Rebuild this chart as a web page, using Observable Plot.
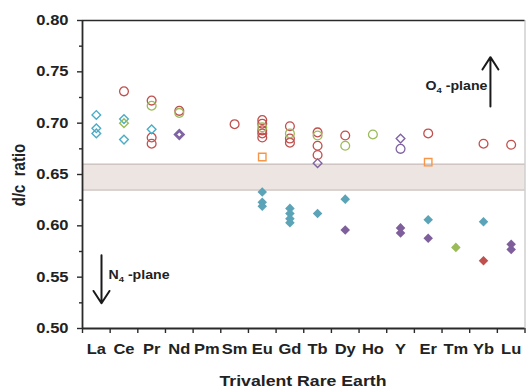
<!DOCTYPE html>
<html><head><meta charset="utf-8">
<script src="https://cdn.jsdelivr.net/npm/d3@7"></script>
<script src="https://cdn.jsdelivr.net/npm/@observablehq/plot@0.6"></script>
<style>
body{margin:0;background:#fff;}
svg{font-family:"Liberation Sans",Arial,sans-serif;overflow:visible;}
</style>
</head><body><div id="chart"></div>
<script>
const categories = ["La","Ce","Pr","Nd","Pm","Sm","Eu","Gd","Tb","Dy","Ho","Y","Er","Tm","Yb","Lu"];
const yTicks = [0.50,0.55,0.60,0.65,0.70,0.75,0.80];
const yMinorTicks = [0.525,0.575,0.625,0.675,0.725,0.775];
const bandRange = [0.635, 0.66];
const xTitle = "Trivalent Rare Earth";
const yTitle = "d/c \u00A0ratio";

// series values [element, d/c ratio]
const redOpenCircles = [["Ce",0.731],["Pr",0.722],["Pr",0.686],["Pr",0.680],["Nd",0.712],["Sm",0.699],
  ["Eu",0.703],["Eu",0.6995],["Eu",0.693],["Eu",0.690],["Eu",0.686],
  ["Gd",0.697],["Gd",0.685],["Gd",0.681],["Tb",0.691],["Tb",0.678],["Tb",0.669],
  ["Dy",0.688],["Er",0.690],["Yb",0.680],["Lu",0.679]];
const greenOpenCircles = [["Pr",0.717],["Nd",0.710],["Eu",0.696],["Gd",0.690],["Tb",0.688],["Dy",0.678],["Ho",0.689]];
const cyanOpenDiamonds = [["La",0.708],["La",0.695],["La",0.690],["Ce",0.704],["Ce",0.684],["Pr",0.694]];
const greenOpenDiamonds = [["Ce",0.700]];
const purpleOpenDiamonds = [["Tb",0.661],["Y",0.685]];
const purpleBoldDiamonds = [["Nd",0.689]];
const purpleOpenCircles = [["Y",0.675]];
const orangeOpenSquares = [["Eu",0.667],["Er",0.662]];
const cyanFilledDiamonds = [["Eu",0.633],["Eu",0.623],["Eu",0.619],["Gd",0.617],["Gd",0.612],["Gd",0.607],["Gd",0.603],
  ["Tb",0.612],["Dy",0.626],["Er",0.606],["Yb",0.604]];
const purpleFilledDiamonds = [["Dy",0.596],["Y",0.598],["Y",0.593],["Er",0.588],["Lu",0.582],["Lu",0.577]];
const greenFilledDiamonds = [["Tm",0.579]];
const redFilledDiamonds = [["Yb",0.566]];

// annotations: [label, x (category index units), y]
const upperNote = ["O\u2084 -plane", 14.14, 0.7358];
const lowerNote = ["N\u2084 -plane", 0.44, 0.5519];
const annotationArrows = [[14.25, 0.7163, 14.25, 0.7643], [0.187, 0.5713, 0.187, 0.5246]];

// styles
const styles = [
  {data: redOpenCircles, symbol: "circle", color: "#C0504D", filled: false, r: 4.4, sw: 1.3},
  {data: greenOpenCircles, symbol: "circle", color: "#9BBB59", filled: false, r: 4.4, sw: 1.3},
  {data: purpleOpenCircles, symbol: "circle", color: "#8064A2", filled: false, r: 4.4, sw: 1.3},
  {data: cyanOpenDiamonds, symbol: "diamond2", color: "#4BACC6", filled: false, r: 3.9, sw: 1.4},
  {data: greenOpenDiamonds, symbol: "diamond2", color: "#9BBB59", filled: false, r: 3.9, sw: 1.4},
  {data: purpleOpenDiamonds, symbol: "diamond2", color: "#8064A2", filled: false, r: 3.9, sw: 1.4},
  {data: purpleBoldDiamonds, symbol: "diamond2", color: "#8064A2", filled: false, r: 3.6, sw: 2.8},
  {data: orangeOpenSquares, symbol: "square", color: "#F79646", filled: false, r: 4.2, sw: 1.4},
  {data: cyanFilledDiamonds, symbol: "diamond2", color: "#5BA3B7", filled: true, r: 4.3, sw: 0},
  {data: purpleFilledDiamonds, symbol: "diamond2", color: "#7E5F9C", filled: true, r: 4.3, sw: 0},
  {data: greenFilledDiamonds, symbol: "diamond2", color: "#9BBB59", filled: true, r: 4.3, sw: 0},
  {data: redFilledDiamonds, symbol: "diamond2", color: "#C0504D", filled: true, r: 4.3, sw: 0}
];

const idx = el => categories.indexOf(el);
const xMin = -0.5, xMax = categories.length - 0.5;
const boundaries = categories.map((_, i) => i - 0.5).concat([xMax]);

const dotMarks = styles.map(s => Plot.dot(s.data.map(([el, v]) => ({x: idx(el), v})), {
  x: "x", y: "v", symbol: () => s.symbol, r: s.r,
  fill: s.filled ? s.color : "none",
  stroke: s.filled ? "none" : s.color,
  strokeWidth: s.sw
}));

const noteMark = (note, anchor) => Plot.text([note], {text: d => d[0], x: d => d[1], y: d => d[2], textAnchor: anchor,
  fontSize: 12, fontWeight: "bold", fill: "#222"});

const plot = Plot.plot({
  width: 526, height: 390,
  marginLeft: 82, marginRight: 1.5, marginTop: 20, marginBottom: 62,
  x: {type: "linear", domain: [xMin, xMax], label: null},
  y: {domain: [yTicks[0], yTicks[yTicks.length - 1]], label: null},
  symbol: {type: "identity"},
  style: {background: "white", fontFamily: "Liberation Sans, Arial, sans-serif"},
  marks: [
    Plot.rect([bandRange], {x1: xMin, x2: xMax, y1: d => d[0], y2: d => d[1], fill: "#EDE5E2"}),
    Plot.ruleY(bandRange, {x1: xMin, x2: xMax, stroke: "#CFC5C2", strokeWidth: 1.5}),
    Plot.ruleX([xMax], {stroke: "#B8B8B8", strokeWidth: 1}),
    Plot.ruleY([yTicks[yTicks.length - 1]], {stroke: "#2a2a2a", strokeWidth: 1.6}),
    ...dotMarks,
    Plot.arrow(annotationArrows, {x1: d => d[0], y1: d => d[1], x2: d => d[2], y2: d => d[3],
      stroke: "#1a1a1a", strokeWidth: 2, headLength: 11, headAngle: 66}),
    noteMark(upperNote, "end"),
    noteMark(lowerNote, "start"),
    Plot.axisY({ticks: yMinorTicks, tickSize: 3, tickFormat: () => "", stroke: "#2a2a2a", strokeWidth: 1.4, label: null}),
    Plot.axisY({ticks: yTicks, tickSize: 5, tickPadding: 9, tickFormat: d3.format(".2f"), fontSize: 14, fontWeight: "bold",
      stroke: "#2a2a2a", strokeWidth: 1.4, fill: "#222", label: null}),
    Plot.axisX({ticks: boundaries, tickSize: 5, tickFormat: () => "", stroke: "#2a2a2a", strokeWidth: 1.4, label: null}),
    Plot.axisX({ticks: categories.map((_, i) => i), tickSize: 0, tickPadding: 16, tickFormat: i => categories[i],
      fontSize: 14, fontWeight: "bold", fill: "#222", label: null}),
    Plot.ruleX([xMin], {stroke: "#2a2a2a", strokeWidth: 1.8}),
    Plot.ruleY([yTicks[0]], {stroke: "#2a2a2a", strokeWidth: 1.8})
  ]
});

const svg = plot.tagName.toLowerCase() === "svg" ? plot : plot.querySelector("svg");

// subscript handling
svg.querySelectorAll("text").forEach(t => {
  const s = t.textContent;
  if (s.includes("\u2084")) {
    const [a, b] = s.split("\u2084");
    t.textContent = "";
    const ns = "http://www.w3.org/2000/svg";
    const t1 = document.createElementNS(ns, "tspan"); t1.textContent = a; t.appendChild(t1);
    const t2 = document.createElementNS(ns, "tspan"); t2.textContent = "4"; t2.setAttribute("font-size", "8"); t2.setAttribute("dy", "3"); t.appendChild(t2);
    const t3 = document.createElementNS(ns, "tspan"); t3.textContent = b.replace(/^ /, "\u00A0"); t3.setAttribute("dy", "-3"); t.appendChild(t3);
  }
});

// titles
const sel = d3.select(svg);
sel.append("text").attr("x", 303).attr("y", 386).attr("text-anchor", "middle")
  .attr("font-size", 15).attr("font-weight", "bold").attr("fill", "#222").text(xTitle);
sel.append("text").attr("transform", "translate(25,175) scale(1.18,1) rotate(-90)").attr("text-anchor", "middle")
  .attr("font-size", 15).attr("font-weight", "bold").attr("fill", "#222").text(yTitle);

// horizontal stretch of text (as in the reference)
const sx = 1.18;
svg.querySelectorAll("text").forEach(t => {
  const tr = t.getAttribute("transform");
  if (tr && tr.includes("rotate")) return;
  if (tr) t.setAttribute("transform", tr + ` scale(${sx},1)`);
  else {
    const x = +t.getAttribute("x") || 0, y = +t.getAttribute("y") || 0;
    t.setAttribute("transform", `translate(${x},${y}) scale(${sx},1) translate(${-x},${-y})`);
  }
});

document.getElementById("chart").appendChild(plot);
</script>
</body></html>
